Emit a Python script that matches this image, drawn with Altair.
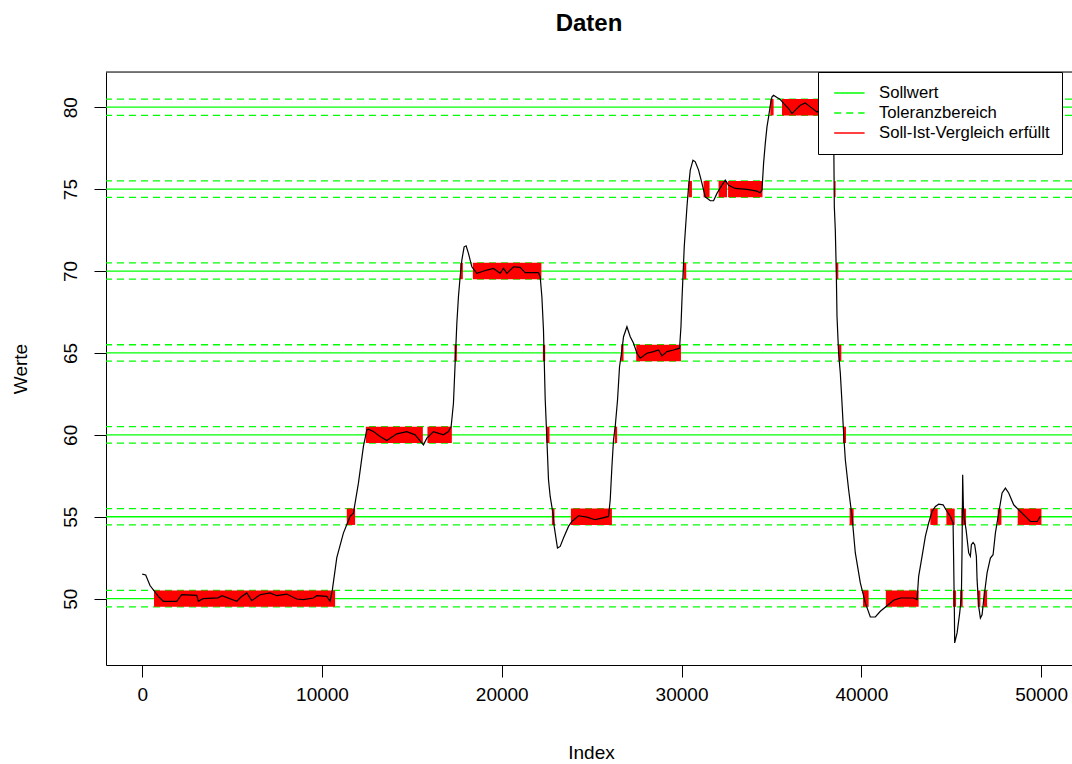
import altair as alt
import pandas as pd

# ---- data ----
idx = [1, 195, 434, 896, 1174, 1920, 2198, 3033, 3122, 3384, 4218, 4441, 5259, 5498, 5815,
       6094, 6556, 7112, 7485, 8042, 8598, 8965, 9522, 9711, 10267, 10451, 10579, 10824,
       11191, 11564, 11748, 12027, 12305, 12494, 12583, 12861, 13234, 13606, 14163, 14719,
       15181, 15643, 15832, 16200, 16756, 17035, 17185, 17313, 17407, 17502, 17591, 17685,
       17780, 17908, 18019, 18147, 18336, 18615, 19171, 19539, 19912, 20096, 20285, 20652,
       21025, 21303, 22043, 22138, 22232, 22321, 22416, 22511, 22600, 22694, 22845, 22917,
       23028, 23100, 23250, 23434, 23713, 23902, 24269, 24737, 25199, 25572, 25939, 26034,
       26128, 26217, 26312, 26440, 26551, 26685, 26774, 26963, 27147, 27331, 27520, 27703,
       28076, 28443, 28721, 28911, 29189, 29556, 29890, 29968, 30024, 30152, 30302, 30391,
       30486, 30636, 30764, 30948, 31137, 31320, 31599, 31782, 31971, 32249, 32433, 32617,
       32990, 33641, 34197, 34381, 34475, 34564, 34659, 34753, 34843, 34937, 35032, 35121,
       35310, 35494, 35678, 35956, 36145, 36329, 36607, 36885, 37163, 37536, 37831, 38276,
       38387, 38471, 38499, 38554, 38610, 38649, 38738, 38833, 38927, 39016, 39111, 39295,
       39484, 39667, 39946, 40224, 40502, 40781, 41059, 41432, 41799, 42172, 42912, 43101,
       43190, 43379, 43563, 43747, 43936, 44120, 44304, 44549, 44771, 44955, 45105, 45139,
       45178, 45194, 45328, 45472, 45567, 45606, 45639, 45678, 45734, 45828, 45973, 46067,
       46123, 46218, 46307, 46401, 46440, 46529, 46624, 46718, 46807, 46902, 46996, 47180,
       47330, 47458, 47642, 47831, 48015, 48199, 48477, 48850, 49128, 49406, 49779, 49963]
werte = [51.5, 51.45, 50.8, 50.14, 49.84, 49.84, 50.24, 50.2, 49.84, 50.0, 50.05, 50.18, 49.84,
         50.1, 50.35, 49.88, 50.24, 50.35, 50.18, 50.28, 49.98, 49.94, 50.04, 50.18, 50.14,
         49.84, 50.55, 52.5, 54.0, 55.02, 55.22, 57.05, 59.29, 60.3, 60.35, 60.2, 59.9, 59.65,
         60.06, 60.2, 60.0, 59.39, 59.8, 60.2, 60.0, 60.2, 60.5, 61.93, 64.37, 66.81, 68.43,
         69.65, 70.67, 71.48, 71.54, 71.08, 70.26, 69.86, 70.06, 70.16, 69.86, 70.16, 69.86,
         70.26, 70.22, 69.9, 69.9, 69.65, 68.43, 66.4, 62.2, 59.7, 57.26, 56.24, 55.22, 54.41,
         53.6, 53.09, 53.19, 53.7, 54.41, 54.71, 55.06, 54.98, 54.82, 54.92, 55.02, 56.04,
         58.07, 59.7, 60.51, 62.13, 64.16, 65.18, 65.99, 66.6, 65.99, 65.59, 64.98, 64.68,
         64.98, 65.08, 65.18, 64.82, 65.08, 65.18, 65.29, 66.6, 68.23, 71.5, 73.92, 75.14,
         76.16, 76.77, 76.67, 76.16, 75.35, 74.53, 74.29, 74.29, 74.74, 75.24, 75.55, 75.24,
         75.04, 74.98, 74.88, 74.78, 74.94, 76.57, 77.79, 78.8, 79.41, 80.12, 80.63, 80.73,
         80.59, 80.47, 80.23, 79.92, 79.61, 79.82, 80.12, 80.26, 80.02, 79.71, 79.9, 80.0,
         79.8, 77.5, 73.92, 72.5, 69.86, 67.21, 64.98, 63.76, 61.93, 60.1, 58.48, 56.65,
         55.02, 52.79, 50.96, 49.74, 48.88, 48.88, 49.23, 49.57, 49.9, 50.04, 50.04, 49.94,
         51.36, 52.58, 53.8, 54.62, 55.32, 55.63, 55.77, 55.73, 55.32, 55.02, 54.62, 52.18,
         49.12, 47.3, 47.91, 49.12, 50.14, 53.19, 57.56, 55.63, 54.82, 54.21, 52.79, 52.58,
         53.29, 53.43, 53.29, 52.58, 51.16, 49.53, 48.82, 49.02, 49.94, 50.75, 51.57, 52.48,
         52.68, 54.0, 55.22, 56.45, 56.75, 56.45, 55.73, 55.32, 55.02, 54.71, 54.71, 55.02]

sollwerte = [50, 55, 60, 65, 70, 75, 80]
toleranz = 0.5

# intervals where the comparison is fulfilled: start, end, setpoint
erf_start = [657, 11380, 12438, 15866, 17368, 17686, 18392, 22288, 22483, 22789, 23846,
             26284, 26640, 27480, 30113, 30391, 31225, 32060, 32589, 34937, 35589, 38499,
             38593, 38738, 38983, 39350, 40096, 41365, 43841, 44732, 45567, 45105, 45494,
             46474, 46807, 47587, 48700]
erf_end = [10730, 11842, 15610, 17224, 17502, 17836, 22204, 22416, 22655, 22934, 26128,
           26417, 26774, 29968, 30262, 30580, 31559, 32528, 34503, 35121, 38380, 38571,
           38721, 38888, 39150, 39573, 40407, 43190, 44248, 45194, 45828, 45272, 45639,
           46624, 46996, 47793, 50020]
erf_soll = [50, 55, 60, 60, 65, 70, 70, 65, 60, 55, 55, 60, 65, 65, 70, 75, 75, 75, 75,
            80, 80, 75, 70, 65, 60, 55, 50, 50, 55, 55, 55, 50, 50, 50, 50, 55, 55]

x_ticks = [0, 10000, 20000, 30000, 40000, 50000]
legend_labels = ["Sollwert", "Toleranzbereich", "Soll-Ist-Vergleich erfüllt"]

# ---- tables ----
df_line = pd.DataFrame({"Index": idx, "Werte": werte})
df_soll = pd.DataFrame({"s": sollwerte})
df_tol = pd.DataFrame({"t": [s - toleranz for s in sollwerte] + [s + toleranz for s in sollwerte]})
df_rect = pd.DataFrame({"x1": erf_start, "x2": erf_end,
                        "y1": [s - toleranz for s in erf_soll],
                        "y2": [s + toleranz for s in erf_soll]})
df_leg = pd.DataFrame({"lab": legend_labels, "y": [200, 200, 200]})
df_box = pd.DataFrame({"a": [0]})

FONT = "Liberation Sans"
W, H = 966, 593
xs = alt.Scale(domain=[-2014, 51720], nice=False, zero=False)
ys = alt.Scale(domain=[45.95, 82.15], nice=False, zero=False)

xaxis = alt.Axis(values=x_ticks, format="d", tickSize=12, labelPadding=8,
                 labelFont=FONT, labelFontSize=19, labelColor="black",
                 domainColor="black", tickColor="black", grid=False,
                 title="Index", titleFont=FONT, titleFontSize=19, titleFontWeight="normal",
                 titleColor="black", titleX=485, titleY=87, titleBaseline="middle",
                 titleAlign="center", labelFlush=False, labelOverlap=False)
yaxis = alt.Axis(values=sollwerte, tickSize=12, labelPadding=14, labelAngle=-90,
                 labelAlign="center", labelBaseline="bottom",
                 labelFont=FONT, labelFontSize=19, labelColor="black",
                 domainColor="black", tickColor="black", grid=False,
                 title="Werte", titleFont=FONT, titleFontSize=19, titleFontWeight="normal",
                 titleColor="black", titleX=-86, titleY=H / 2, titleAngle=-90,
                 titleBaseline="middle", titleAlign="center", labelFlush=False,
                 labelOverlap=False)

soll = alt.Chart(df_soll).mark_rule(color="#00FF00", strokeWidth=1.3).encode(
    y=alt.Y("s:Q", scale=ys, axis=yaxis))
tol = alt.Chart(df_tol).mark_rule(color="#00FF00", strokeWidth=1.3, strokeDash=[7, 5]).encode(
    y=alt.Y("t:Q", scale=ys))
rects = alt.Chart(df_rect).mark_rect(color="#FF0000").encode(
    x=alt.X("x1:Q", scale=xs, axis=xaxis), x2="x2:Q",
    y=alt.Y("y1:Q", scale=ys), y2="y2:Q")
line = alt.Chart(df_line).mark_line(color="black", strokeWidth=1.2).encode(
    x=alt.X("Index:Q", scale=xs), y=alt.Y("Werte:Q", scale=ys), order="Index:Q")
top = alt.Chart(df_box).mark_rule(color="black", strokeWidth=1).encode(y=alt.value(0))

leg_common = dict(title=None, orient="none", legendX=712, legendY=0,
                  fillColor="white", strokeColor="black", padding=12,
                  symbolType="M-0.6,0H3.2", symbolSize=256, symbolStrokeWidth=1.5,
                  labelFont=FONT, labelFontSize=16.7, labelColor="black",
                  labelOffset=31, rowPadding=2, labelLimit=400, cornerRadius=0)

leg = alt.Chart(df_leg).mark_rule(clip=True, strokeWidth=1.5).encode(
    y=alt.Y("y:Q", scale=ys),
    color=alt.Color("lab:N", scale=alt.Scale(domain=legend_labels,
                                             range=["#00FF00", "#00FF00", "#FF0000"]),
                    legend=alt.Legend(**leg_common)),
    strokeDash=alt.StrokeDash("lab:N", scale=alt.Scale(domain=legend_labels,
                                                        range=[[1, 0], [7, 5], [1, 0]]),
                              legend=alt.Legend(**leg_common)))

chart = alt.layer(soll, tol, rects, line, top, leg).properties(
    width=W, height=H,
    padding={"left": 106, "top": 72, "right": 0, "bottom": 99},
    autosize=alt.AutoSizeParams(type="none"),
    title=alt.TitleParams("Daten", font=FONT, fontSize=24, fontWeight="bold",
                          color="black", anchor="middle", offset=36),
).configure_view(stroke=None).configure(background="white")

chart.save("out.html", embed_options={"renderer": "svg", "actions": False})
